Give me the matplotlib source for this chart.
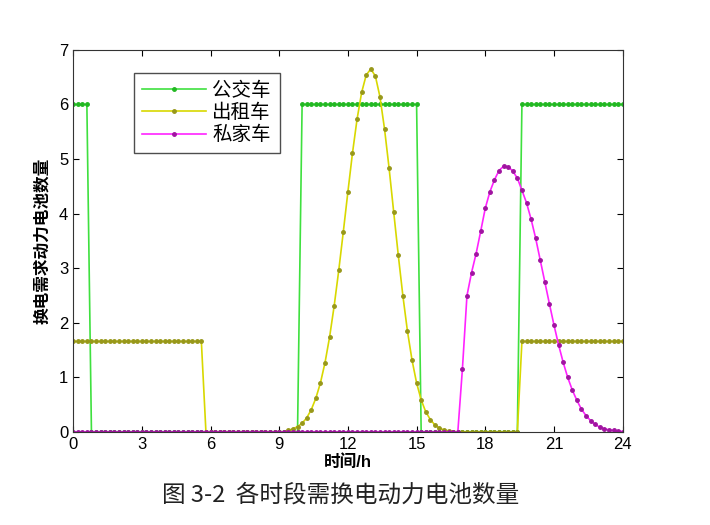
import matplotlib
matplotlib.use('Agg')
import matplotlib.pyplot as plt
import numpy as np

plt.rcParams['font.family'] = ['Liberation Sans', 'Noto Sans CJK SC', 'DejaVu Sans']

# time grid, one sample every 0.2 h
t = np.linspace(0, 24, 121)

# bus (公交车)
bus = [6.0]*4 + [0.0]*46 + [6.0]*26 + [0.0]*22 + [6.0]*23

# taxi (出租车)
taxi_bell = [0.03, 0.06, 0.10, 0.16, 0.26, 0.41, 0.62, 0.90, 1.27, 1.74,
             2.31, 2.96, 3.67, 4.40, 5.11, 5.73, 6.22, 6.54, 6.65, 6.52,
             6.14, 5.55, 4.83, 4.03, 3.24, 2.50, 1.85, 1.32, 0.90, 0.59,
             0.37, 0.23, 0.13, 0.07, 0.04, 0.02, 0.01]
taxi = [1.66]*29 + [0.0]*18 + taxi_bell + [0.0]*14 + [1.66]*23

# private car (私家车)
private_bell = [1.15, 2.50, 2.92, 3.27, 3.68, 4.10, 4.40, 4.62, 4.79, 4.87,
                4.86, 4.78, 4.65, 4.43, 4.20, 3.90, 3.55, 3.15, 2.75, 2.35,
                1.96, 1.60, 1.28, 1.00, 0.77, 0.58, 0.42, 0.30, 0.21, 0.14,
                0.09, 0.06, 0.04, 0.03, 0.02, 0.01]
private = [0.0]*85 + private_bell

labels = ['公交车', '出租车', '私家车']
xticks = [0, 3, 6, 9, 12, 15, 18, 21, 24]
yticks = [0, 1, 2, 3, 4, 5, 6, 7]

fig = plt.figure(figsize=(7.1, 5.25), dpi=100)
ax = fig.add_axes([0.103, 0.177, 0.774, 0.728])

ax.plot(t, bus, '.-', color='#3fe03f', lw=1.2, ms=5,
        mfc='#22b822', mec='#22b822', label=labels[0])
ax.plot(t, taxi, '.-', color='#d8d800', lw=1.2, ms=5,
        mfc='#98981a', mec='#98981a', label=labels[1])
ax.plot(t, private, '.-', color='#ff22ff', lw=1.2, ms=5,
        mfc='#a014a0', mec='#a014a0', label=labels[2])

ax.set_xlim(0, 24)
ax.set_ylim(0, 7)
ax.set_xticks(xticks)
ax.set_yticks(yticks)
ax.tick_params(direction='in', top=True, right=True, labelsize=12, length=4)
for s in ax.spines.values():
    s.set_color('#333333')

ax.set_xlabel('时间/h', fontsize=12, fontweight='bold', labelpad=2)
ax.set_ylabel('换电需求动力电池数量', fontsize=12, fontweight='bold', labelpad=6)

leg = ax.legend(loc='upper left', bbox_to_anchor=(0.11, 0.94), fontsize=14,
                frameon=True, fancybox=False, handlelength=3.3,
                borderpad=0.45, labelspacing=0.2, handletextpad=0.3,
                borderaxespad=0.)
leg.get_frame().set_edgecolor('#222222')
leg.get_frame().set_linewidth(1.0)

fig.text(0.48, 0.057, '图 3-2  各时段需换电动力电池数量', ha='center', va='center',
         fontsize=17, family=['Noto Sans CJK SC', 'DejaVu Sans'], color='#222222')

fig.savefig('out.png', dpi=100, facecolor='white')
